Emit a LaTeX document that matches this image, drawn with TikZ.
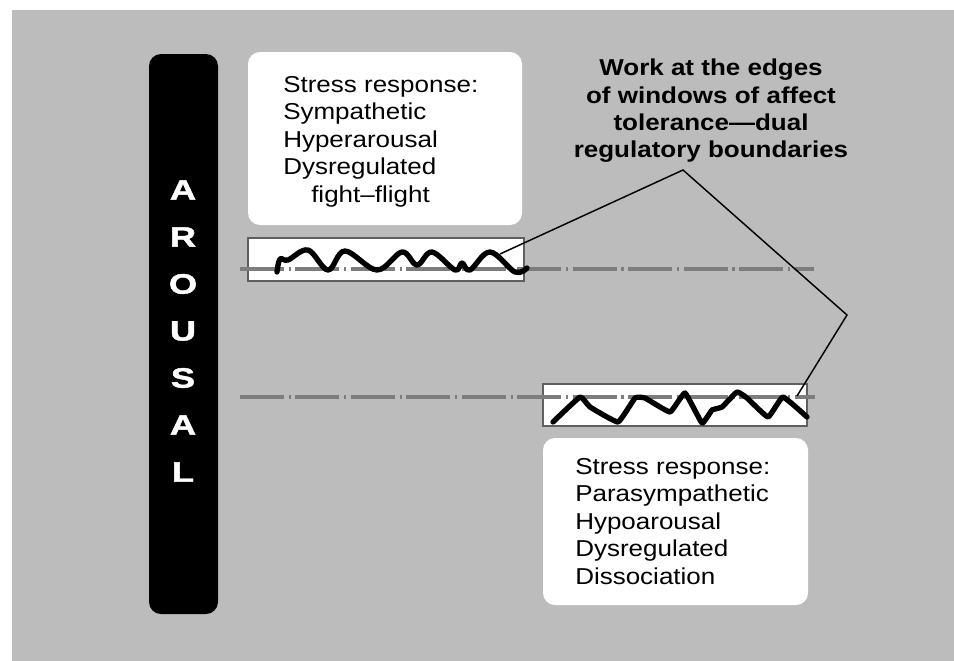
\documentclass[tikz,border=0pt]{standalone}
\usepackage{fontspec}
\setmainfont{Liberation Sans}
\newfontfamily\boxfont{Liberation Sans}[FakeStretch=1.13]
\newfontfamily\barfont{Liberation Sans}[FakeStretch=1.3, BoldFeatures={FakeBold=1.6}]
\definecolor{bggray}{RGB}{188,188,188}
\definecolor{linegray}{RGB}{125,125,125}
\definecolor{framegray}{RGB}{95,95,95}
\tikzset{
  panel/.style={fill=white, draw=none, rounded corners=9pt},
  window/.style={fill=white, draw=framegray, line width=1.5pt},
  baseline line/.style={draw=linegray, line width=3.6pt,
     dash pattern=on 33pt off 3.5pt on 1.6pt off 3.5pt},
  wave/.style={draw=black, line width=4pt, line join=round, line cap=round},
  connector/.style={draw=black, line width=1.1pt, line join=miter},
  boxtext/.style={font=\boxfont\fontsize{17.25pt}{20.6pt}\selectfont, align=left, inner sep=0pt, text=black},
  titletext/.style={font=\boxfont\bfseries\fontsize{17.25pt}{20.3pt}\selectfont, align=center, inner sep=0pt, text=black},
  barletter/.style={font=\barfont\bfseries\fontsize{21pt}{21pt}\selectfont, text=white, inner sep=0pt}
}
\begin{document}
\begin{tikzpicture}[x=0.75pt, y=-0.75pt]
\useasboundingbox (0,0) rectangle (954,661);
\fill[white] (0,0) rectangle (954,661);
\fill[bggray] (12,10) rectangle (954,661);

% black arousal bar
\fill[black, rounded corners=9pt] (149,54) rectangle (218,614);
\foreach \ch [count=\i from 0] in {A,R,O,U,S,A,L}{
  \node[barletter] (bar\i) at (183,{190+47*\i}) {\ch};
}

% white panels
\fill[panel] (248,52) rectangle (522,225);
\fill[panel] (543,438) rectangle (808,605);

\node[boxtext, anchor=north west] (toptext) at (283,76)
  {Stress response:\\Sympathetic\\Hyperarousal\\Dysregulated\\\hspace*{21pt}fight–flight};
\node[boxtext, anchor=north west] (bottext) at (575,458)
  {Stress response:\\Parasympathetic\\Hypoarousal\\Dysregulated\\Dissociation};

\node[titletext, anchor=north] (title) at (711,59)
  {Work at the edges\\of windows of affect\\tolerance—dual\\regulatory boundaries};

% windows
\draw[window] (248,238) rectangle (524,281);
\draw[window] (543,384) rectangle (807,426);

% baselines
\draw[baseline line] (240,269) -- (814,269);
\draw[baseline line] (240,397) -- (815,397);

% waves
\draw[wave] plot[smooth, tension=0.6] coordinates {
 (277,272) (280,259) (288,260) (308,250) (328,270) (345,251) (377,270)
 (402,252) (417,265) (432,252) (455,270) (462,263) (470,270) (490,252)
 (515,272) (527,268)};
\draw[wave] plot[smooth, tension=0.2] coordinates {
 (553,422) (580,397) (590,407) (618,422) (635,398) (645,398) (670,412)
 (685,393) (702,423) (712,410) (722,407) (737,392) (747,398) (768,417)
 (783,397) (807,417)};

% connector
\coordinate (topend) at (500,254);
\coordinate (apex) at (683,170);
\coordinate (elbow) at (847,315);
\coordinate (botend) at (797,396);
\draw[connector] (topend) -- (apex) -- (elbow) -- (botend);
\end{tikzpicture}
\end{document}
